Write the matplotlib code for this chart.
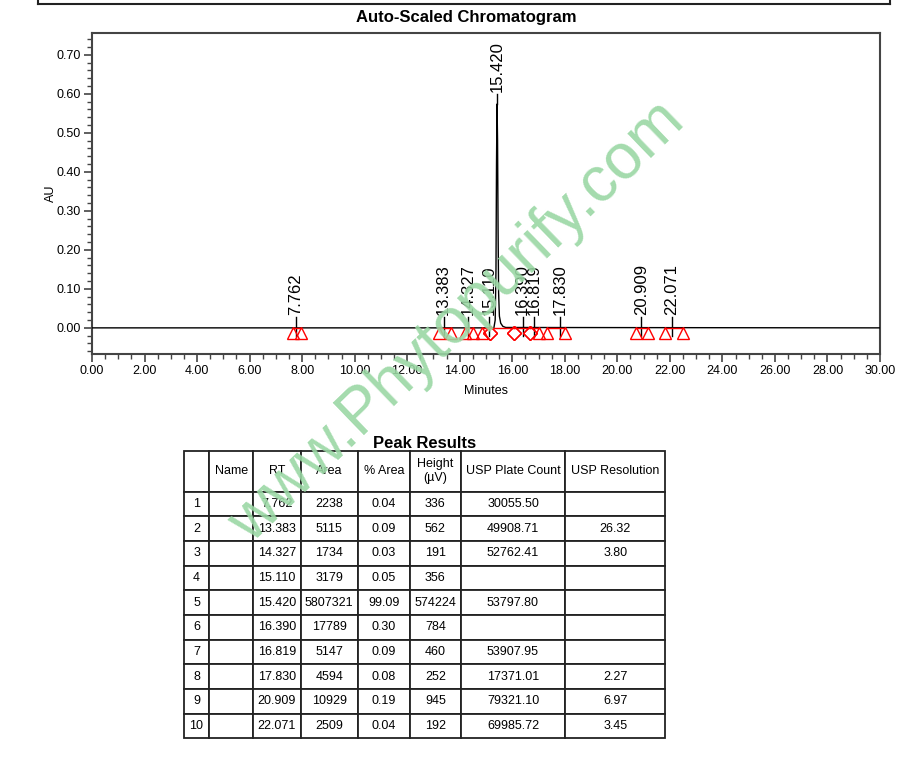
import matplotlib
matplotlib.use("Agg")
import matplotlib.pyplot as plt
from matplotlib.lines import Line2D
from matplotlib.ticker import MultipleLocator, FormatStrFormatter

# ============================
# Dados do cromatograma
# ============================
trace_time = [0.0, 15.30, 15.35, 15.38, 15.40, 15.42, 15.44, 15.46, 15.48,
              15.51, 15.56, 15.64, 15.75, 30.0]
trace_au = [0.0, 0.0, 0.02, 0.15, 0.42, 0.574, 0.48, 0.25, 0.09,
            0.03, 0.012, 0.004, 0.001, 0.0]

peak_rt = [7.762, 13.383, 14.327, 15.110, 15.420, 16.390, 16.819, 17.830, 20.909, 22.071]
peak_labels = ["7.762", "13.383", "14.327", "15.110", "15.420",
               "16.390", "16.819", "17.830", "20.909", "22.071"]
peak_start = [7.66, 13.22, 14.20, 14.83, 15.15, 16.06, 16.67, 17.33, 20.71, 21.81]
peak_end = [7.95, 13.65, 14.52, 15.15, 16.06, 16.67, 17.03, 18.00, 21.18, 22.49]
start_mark = ["^", "^", "^", "^", "D", "D", "D", "^", "^", "^"]
end_mark = ["^", "^", "^", "D", "D", "D", "^", "^", "^", "^"]

# ============================
# Tabela de resultados
# ============================
col_labels = ["", "Name", "RT", "Area", "% Area", "Height\n(\u00b5V)",
              "USP Plate Count", "USP Resolution"]
row_num = ["1", "2", "3", "4", "5", "6", "7", "8", "9", "10"]
t_rt = ["7.762", "13.383", "14.327", "15.110", "15.420", "16.390", "16.819", "17.830", "20.909", "22.071"]
t_area = ["2238", "5115", "1734", "3179", "5807321", "17789", "5147", "4594", "10929", "2509"]
t_pct = ["0.04", "0.09", "0.03", "0.05", "99.09", "0.30", "0.09", "0.08", "0.19", "0.04"]
t_height = ["336", "562", "191", "356", "574224", "784", "460", "252", "945", "192"]
t_plate = ["30055.50", "49908.71", "52762.41", "", "53797.80", "", "53907.95", "17371.01", "79321.10", "69985.72"]
t_res = ["", "26.32", "3.80", "", "", "", "", "2.27", "6.97", "3.45"]

plt.rcParams["font.family"] = ["Liberation Sans", "DejaVu Sans"]

fig = plt.figure(figsize=(9.2, 7.65), dpi=100)

# moldura da página (topo)
for xs, ys in [([38 / 920, 38 / 920], [1, 1 - 4 / 765]),
               ([890 / 920, 890 / 920], [1, 1 - 4 / 765]),
               ([38 / 920, 890 / 920], [1 - 4 / 765, 1 - 4 / 765])]:
    fig.add_artist(Line2D(xs, ys, transform=fig.transFigure, color="#222222", lw=1.5))

# ============================
# Cromatograma
# ============================
ax = fig.add_axes([92 / 920, 1 - 354 / 765, 788 / 920, 321 / 765])
ax.plot(trace_time, trace_au, color="black", lw=1.0, zorder=3)

# linhas de base integradas e marcadores
for s, e, ms, me in zip(peak_start, peak_end, start_mark, end_mark):
    ax.plot([s, e], [0, 0], color="red", lw=1.0, zorder=4)
    for x, m in [(s, ms), (e, me)]:
        ax.plot(x, -0.014, marker=m, ms=9 if m == "^" else 7, mfc="none",
                mec="red", mew=1.0, zorder=5)

# rótulos de pico
for rt, lab, h in zip(peak_rt, peak_labels, [0, 0, 0, 0, 0.574, 0, 0, 0, 0, 0]):
    if h > 0.1:
        ax.plot([rt, rt], [h, h + 0.025], color="black", lw=1.0, zorder=3)
        ax.text(rt, h + 0.031, lab, rotation=90, ha="center", va="bottom", fontsize=12)
    else:
        ax.plot([rt, rt], [-0.022, 0.027], color="black", lw=1.0, zorder=3)
        ax.text(rt, 0.033, lab, rotation=90, ha="center", va="bottom", fontsize=12)

ax.set_xlim(0, 30)
ax.set_ylim(-0.067, 0.756)
ax.xaxis.set_major_locator(MultipleLocator(2))
ax.xaxis.set_minor_locator(MultipleLocator(0.5))
ax.yaxis.set_major_locator(MultipleLocator(0.1))
ax.yaxis.set_minor_locator(MultipleLocator(0.02))
ax.xaxis.set_major_formatter(FormatStrFormatter("%.2f"))
ax.yaxis.set_major_formatter(FormatStrFormatter("%.2f"))
ax.tick_params(which="major", length=6, width=1.2, color="#444444", labelsize=9, pad=2)
ax.tick_params(which="minor", length=3.5, width=1.0, color="#444444")
for sp in ax.spines.values():
    sp.set_color("#444444")
    sp.set_linewidth(1.5)
ax.set_xlabel("Minutes", fontsize=9, labelpad=6)
ax.set_ylabel("AU", fontsize=9, labelpad=0)
ax.set_title("Auto-Scaled Chromatogram", fontsize=12, fontweight="bold", pad=8,
             x=(466 - 92) / 788)

# ============================
# Tabela
# ============================
tax = fig.add_axes([184 / 920, 1 - 738.3 / 765, 481 / 920, 287.3 / 765])
tax.axis("off")
cells = [list(r) for r in zip(row_num, [""] * 10, t_rt, t_area, t_pct, t_height, t_plate, t_res)]
col_w = [25, 44.3, 47.4, 57, 52.3, 50.7, 104.6, 99.7]
tbl = tax.table(cellText=cells, colLabels=col_labels, colWidths=col_w,
                cellLoc="center", bbox=[0, 0, 1, 1])
tbl.auto_set_font_size(False)
for (r, c), cell in tbl.get_celld().items():
    cell.set_height(40.7 if r == 0 else 24.66)
    cell.set_linewidth(1.3)
    cell.set_edgecolor("#222222")
    cell.get_text().set_fontsize(9)
tax.set_title("Peak Results", fontsize=12, fontweight="bold", pad=1)

# marca d'água
fig.text(457 / 920, 1 - 322 / 765, "www.Phytopurify.com", rotation=44,
         rotation_mode="anchor", ha="center", va="center", fontsize=46,
         color="#9ad7a4", alpha=0.9, zorder=10)

fig.savefig("out.png", dpi=100)
